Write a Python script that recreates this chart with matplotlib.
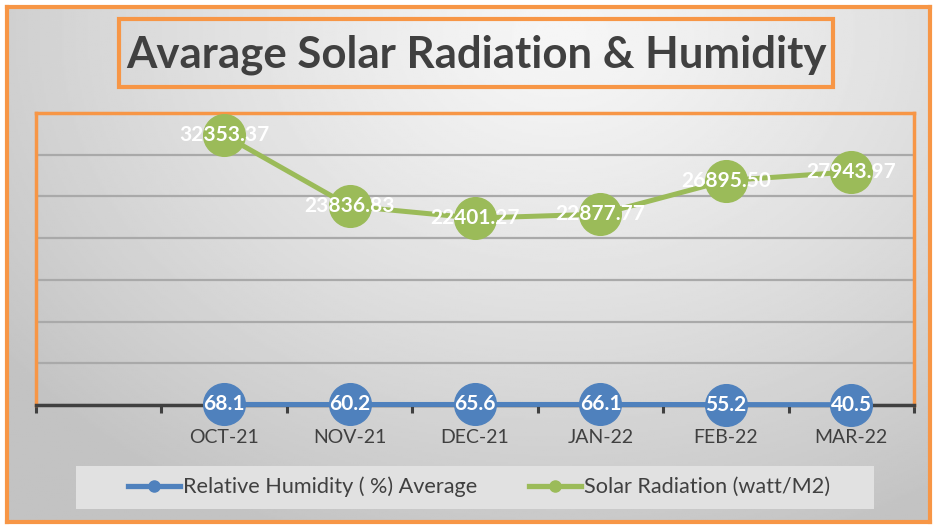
import numpy as np
import matplotlib.pyplot as plt
from matplotlib.patches import Rectangle
from matplotlib.lines import Line2D

W, H = 934, 525

# chart data
months = ['', 'OCT-21', 'NOV-21', 'DEC-21', 'JAN-22', 'FEB-22', 'MAR-22']
humidity = [68.1, 60.2, 65.6, 66.1, 55.2, 40.5]
solar = [32353.37, 23836.83, 22401.27, 22877.77, 26895.50, 27943.97]
series_names = ['Relative Humidity ( %) Average', 'Solar Radiation (watt/M2)']
title = 'Avarage Solar Radiation & Humidity'

ORANGE = '#F79646'
BLUE = '#4F81BD'
GREEN = '#9BBB59'
DARK = '#404040'

plt.rcParams['font.family'] = ['Lato', 'DejaVu Sans']


def fx(px):
    return px / W


def fy(py):
    return 1 - py / H


fig = plt.figure(figsize=(W / 100, H / 100), dpi=100)
fig.patch.set_facecolor('white')

# grey radial gradient background with orange frame
bg = fig.add_axes([fx(7), fy(522), fx(930) - fx(7), fy(7) - fy(522)])
yy, xx = np.mgrid[0:1:260j, 0:1:460j]
r = np.sqrt(((xx - 0.6) * 1.25) ** 2 + ((yy - 0.05) * 0.9) ** 2)
shade = 0.965 - 0.2 * np.clip(r / 0.95, 0, 1) ** 1.2
bg.imshow(shade, cmap='gray', vmin=0, vmax=1, aspect='auto', extent=[0, 1, 0, 1])
bg.set_xticks([])
bg.set_yticks([])
for s in bg.spines.values():
    s.set_color(ORANGE)
    s.set_linewidth(3)

# title box
fig.patches.append(Rectangle((fx(119), fy(87)), fx(833) - fx(119), fy(19) - fy(87),
                             transform=fig.transFigure, facecolor='none',
                             edgecolor=ORANGE, linewidth=3, zorder=3))
fig.text(fx(476), fy(55), title, ha='center', va='center', fontsize=31.5,
         fontweight='bold', color=DARK, zorder=4)

# plot area
ax = fig.add_axes([fx(36), fy(405), fx(914) - fx(36), fy(113) - fy(405)])
ax.set_facecolor('none')
x = np.arange(len(months))
ax.set_xlim(-0.5, len(months) - 0.5)
ax.set_ylim(0, 35000)
ax.set_yticks(np.arange(0, 35001, 5000))
ax.yaxis.grid(True, color='#a9a9a9', linewidth=1.6)
ax.set_axisbelow(True)
ax.tick_params(axis='y', left=False, labelleft=False)

ax.set_xticks(x)
ax.set_xticklabels(months, fontsize=14, color=DARK)
ax.tick_params(axis='x', length=0, pad=17)
ax.set_xticks(np.arange(-0.5, len(months), 1), minor=True)
ax.tick_params(axis='x', which='minor', length=6, width=2.2, color=DARK, direction='out')

for side in ['left', 'top', 'right']:
    ax.spines[side].set_color(ORANGE)
    ax.spines[side].set_linewidth(2.5)
ax.spines['bottom'].set_color(DARK)
ax.spines['bottom'].set_linewidth(2.5)

ax.plot(x[1:], humidity, color=BLUE, lw=3.6, marker='o', ms=30, clip_on=False, zorder=4)
ax.plot(x[1:], solar, color=GREEN, lw=3.6, marker='o', ms=30, clip_on=False, zorder=4)

for xi, v in zip(x[1:], humidity):
    ax.text(xi, v, f'{v:.1f}', ha='center', va='center', color='white',
            fontsize=15, fontweight='bold', zorder=6, clip_on=False)
for xi, v in zip(x[1:], solar):
    ax.text(xi, v, f'{v:.2f}', ha='center', va='center', color='white',
            fontsize=15, fontweight='bold', zorder=6, clip_on=False)

# legend
fig.patches.append(Rectangle((fx(76), fy(509)), fx(874) - fx(76), fy(466) - fy(509),
                             transform=fig.transFigure, facecolor='#e1e1e1',
                             edgecolor='none', zorder=2))
handles = [Line2D([], [], color=BLUE, lw=3.8, marker='o', ms=8),
           Line2D([], [], color=GREEN, lw=3.8, marker='o', ms=8)]
fig.legend(handles, series_names, loc='center', bbox_to_anchor=(fx(479), fy(487)),
           ncol=2, frameon=False, fontsize=15.6, handlelength=2.4, handletextpad=0.15,
           columnspacing=2.4, labelcolor=DARK)

fig.savefig('out.png', dpi=100)
